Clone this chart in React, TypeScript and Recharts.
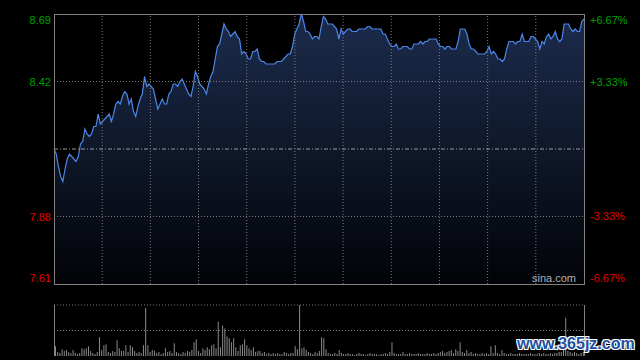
import { AreaChart, Area, BarChart, Bar, XAxis, YAxis, ReferenceLine } from 'recharts'

// intraday price, one value per minute (0..240)
const prices = [
  8.15, 8.13, 8.08, 8.04, 8.02, 8.07, 8.11, 8.13, 8.12, 8.11,
  8.10, 8.12, 8.17, 8.18, 8.23, 8.21, 8.20, 8.21, 8.24, 8.24,
  8.29, 8.25, 8.26, 8.27, 8.28, 8.29, 8.26, 8.29, 8.33, 8.34,
  8.33, 8.36, 8.38, 8.37, 8.33, 8.35, 8.30, 8.28, 8.32, 8.35,
  8.37, 8.44, 8.40, 8.41, 8.40, 8.39, 8.35, 8.31, 8.33, 8.35,
  8.33, 8.33, 8.37, 8.38, 8.41, 8.41, 8.40, 8.42, 8.43, 8.41,
  8.39, 8.37, 8.36, 8.40, 8.46, 8.44, 8.41, 8.40, 8.39, 8.37,
  8.41, 8.44, 8.46, 8.51, 8.56, 8.57, 8.61, 8.65, 8.63, 8.62,
  8.60, 8.61, 8.62, 8.60, 8.59, 8.53, 8.54, 8.53, 8.51, 8.51,
  8.54, 8.54, 8.55, 8.51, 8.50, 8.50, 8.49, 8.49, 8.49, 8.49,
  8.49, 8.50, 8.50, 8.50, 8.51, 8.52, 8.53, 8.53, 8.56, 8.61,
  8.63, 8.65, 8.69, 8.66, 8.62, 8.62, 8.61, 8.59, 8.60, 8.60,
  8.59, 8.64, 8.68, 8.67, 8.65, 8.65, 8.65, 8.64, 8.63, 8.59,
  8.63, 8.61, 8.62, 8.63, 8.63, 8.62, 8.62, 8.62, 8.63, 8.63,
  8.63, 8.63, 8.64, 8.64, 8.63, 8.63, 8.63, 8.63, 8.63, 8.61,
  8.61, 8.59, 8.57, 8.56, 8.56, 8.57, 8.55, 8.55, 8.56, 8.56,
  8.56, 8.55, 8.55, 8.57, 8.57, 8.57, 8.58, 8.57, 8.58, 8.58,
  8.59, 8.59, 8.59, 8.59, 8.57, 8.56, 8.56, 8.55, 8.56, 8.56,
  8.55, 8.55, 8.55, 8.58, 8.63, 8.63, 8.63, 8.61, 8.57, 8.55,
  8.55, 8.54, 8.53, 8.53, 8.53, 8.53, 8.54, 8.56, 8.53, 8.54,
  8.53, 8.51, 8.51, 8.50, 8.51, 8.55, 8.58, 8.58, 8.58, 8.57,
  8.58, 8.58, 8.61, 8.58, 8.58, 8.58, 8.60, 8.60, 8.59, 8.58,
  8.55, 8.58, 8.57, 8.60, 8.61, 8.59, 8.60, 8.62, 8.59, 8.58,
  8.59, 8.65, 8.65, 8.65, 8.63, 8.62, 8.63, 8.62, 8.62, 8.66,
  8.67,
]

// volume per minute (relative units)
const volumes = [
  10, 4, 3, 7, 5, 6, 4, 3, 6, 3,
  2, 3, 8, 7, 8, 10, 5, 3, 2, 4,
  19, 6, 11, 12, 4, 3, 5, 4, 16, 8,
  5, 5, 11, 4, 11, 9, 5, 3, 4, 3,
  11, 49, 11, 4, 6, 5, 3, 4, 2, 3,
  8, 4, 5, 3, 13, 4, 3, 2, 4, 3,
  5, 4, 6, 14, 17, 5, 3, 8, 6, 9,
  7, 11, 12, 8, 35, 9, 31, 28, 20, 18,
  14, 18, 9, 5, 11, 12, 17, 11, 8, 6,
  9, 4, 5, 5, 3, 4, 2, 3, 2, 3,
  2, 3, 2, 2, 4, 3, 2, 3, 3, 10,
  7, 52, 8, 9, 6, 4, 3, 2, 4, 3,
  5, 19, 18, 7, 3, 2, 2, 3, 2, 6,
  3, 2, 2, 3, 2, 2, 1, 2, 3, 2,
  2, 1, 2, 3, 2, 2, 2, 1, 2, 2,
  3, 2, 4, 14, 3, 2, 2, 2, 4, 2,
  2, 3, 2, 2, 2, 3, 2, 2, 2, 3,
  2, 2, 3, 2, 3, 4, 5, 3, 4, 5,
  6, 3, 7, 5, 14, 4, 3, 6, 3, 4,
  2, 3, 2, 2, 3, 2, 3, 2, 10, 3,
  11, 3, 2, 6, 3, 2, 2, 3, 2, 2,
  2, 3, 2, 2, 2, 2, 3, 2, 2, 2,
  3, 2, 3, 2, 2, 3, 2, 3, 3, 4,
  4, 6, 39, 5, 4, 3, 4, 3, 2, 3,
  4,
]

const priceTicks = [7.61, 7.88, 8.42, 8.69]
const pctTicks = [-6.67, -3.33, 3.33, 6.67]
const prevClose = 8.15

const data = prices.map((price, i) => ({
  m: i,
  price,
  pct: ((price - prevClose) / prevClose) * 100,
  vol: volumes[i],
}))
const lastMinute = prices.length - 1
const volMax = Math.max(...volumes)

const font = "'Liberation Sans', Arial, sans-serif"
const green = '#00a000'
const red = '#e00000'
const gridColor = '#7a7a7a'

function PriceTick({ x, y, payload }: any) {
  const v = payload.value
  const shift = v === priceTicks[priceTicks.length - 1] ? 6 : v === priceTicks[0] ? -6 : 0
  return (
    <text x={x} y={y + shift} dy={4} textAnchor="end" fontSize={11} fontFamily={font}
      fill={v > prevClose ? green : red}>
      {v.toFixed(2)}
    </text>
  )
}

function PctTick({ x, y, payload }: any) {
  const v = payload.value
  const shift = v === pctTicks[pctTicks.length - 1] ? 6 : v === pctTicks[0] ? -6 : 0
  return (
    <text x={x} y={y + shift} dy={4} textAnchor="start" fontSize={11} fontFamily={font}
      fill={v > 0 ? green : red}>
      {(v > 0 ? '+' : '') + v.toFixed(2) + '%'}
    </text>
  )
}

export default function App() {
  const cols = 11
  const vLines = Array.from({ length: cols - 1 }, (_, i) => ((i + 1) * lastMinute) / cols)

  return (
    <div style={{ position: 'absolute', left: 0, top: 0, width: 640, height: 360, background: '#000', overflow: 'hidden' }}>
      <div style={{ position: 'absolute', left: 0, top: 0 }}>
        <AreaChart width={640} height={300} data={data} margin={{ top: 14, right: 0, bottom: 16, left: 0 }}>
          <defs>
            <linearGradient id="priceFill" x1="0" y1="0" x2="0" y2="1">
              <stop offset="0%" stopColor="#1c2c4d" />
              <stop offset="100%" stopColor="#020307" />
            </linearGradient>
          </defs>
          <XAxis dataKey="m" type="number" domain={[0, lastMinute]} hide />
          <YAxis yAxisId="price" orientation="left" width={54} domain={[7.61, 8.69]} ticks={priceTicks}
            interval={0} axisLine={false} tickLine={false} tickSize={0} tickMargin={3} tick={<PriceTick />} />
          <YAxis yAxisId="pct" orientation="right" width={56} domain={[-6.67, 6.67]} ticks={pctTicks}
            interval={0} axisLine={false} tickLine={false} tickSize={0} tickMargin={6} tick={<PctTick />}
            allowDataOverflow />
          {/* invisible series so the percent axis gets drawn */}
          <Area yAxisId="pct" type="linear" dataKey="pct" stroke="none" fill="none" dot={false}
            activeDot={false} isAnimationActive={false} />
          <Area yAxisId="price" type="linear" dataKey="price" baseValue="dataMin" stroke="#4a86e8"
            strokeWidth={1.2} fill="url(#priceFill)" fillOpacity={1} dot={false} activeDot={false}
            isAnimationActive={false} />
          {vLines.map((x) => (
            <ReferenceLine key={x} yAxisId="price" x={x} stroke={gridColor} strokeDasharray="1 2" />
          ))}
          <ReferenceLine yAxisId="price" y={priceTicks[2]} stroke={gridColor} strokeDasharray="1 2" />
          <ReferenceLine yAxisId="price" y={priceTicks[1]} stroke={gridColor} strokeDasharray="1 2" />
          <ReferenceLine yAxisId="price" y={prevClose} stroke="#9a9a9a" strokeDasharray="4 2 1 2" />
        </AreaChart>
      </div>
      <div style={{ position: 'absolute', left: 54, top: 14, width: 531, height: 271, boxSizing: 'border-box', border: '1px solid #808080', pointerEvents: 'none' }} />
      <div style={{ position: 'absolute', left: 532, top: 272, fontSize: 11, fontFamily: font, color: '#b0b0b0' }}>sina.com</div>

      <div style={{ position: 'absolute', left: 0, top: 0 }}>
        <BarChart width={640} height={360} data={data} margin={{ top: 305, right: 56, bottom: 4, left: 54 }}>
          <XAxis dataKey="m" hide />
          <YAxis domain={[0, volMax]} hide />
          <ReferenceLine y={volMax} stroke={gridColor} strokeDasharray="1 2" />
          <ReferenceLine y={volMax / 2} stroke={gridColor} strokeDasharray="1 2" />
          <Bar dataKey="vol" fill="#8a8a8a" barSize={1} isAnimationActive={false} />
        </BarChart>
      </div>
      <div style={{ position: 'absolute', left: 54, top: 305, width: 531, height: 51, boxSizing: 'border-box', borderLeft: '1px solid #808080', borderRight: '1px solid #808080', pointerEvents: 'none' }} />

      <div style={{ position: 'absolute', left: 517, top: 335, fontSize: 16, fontWeight: 'bold', fontFamily: font, color: '#1f4f9e', textShadow: '1px 1px 0 #fff, -1px -1px 0 #fff, 1px -1px 0 #fff, -1px 1px 0 #fff' }}>
        www.365jz.com
      </div>
    </div>
  )
}
